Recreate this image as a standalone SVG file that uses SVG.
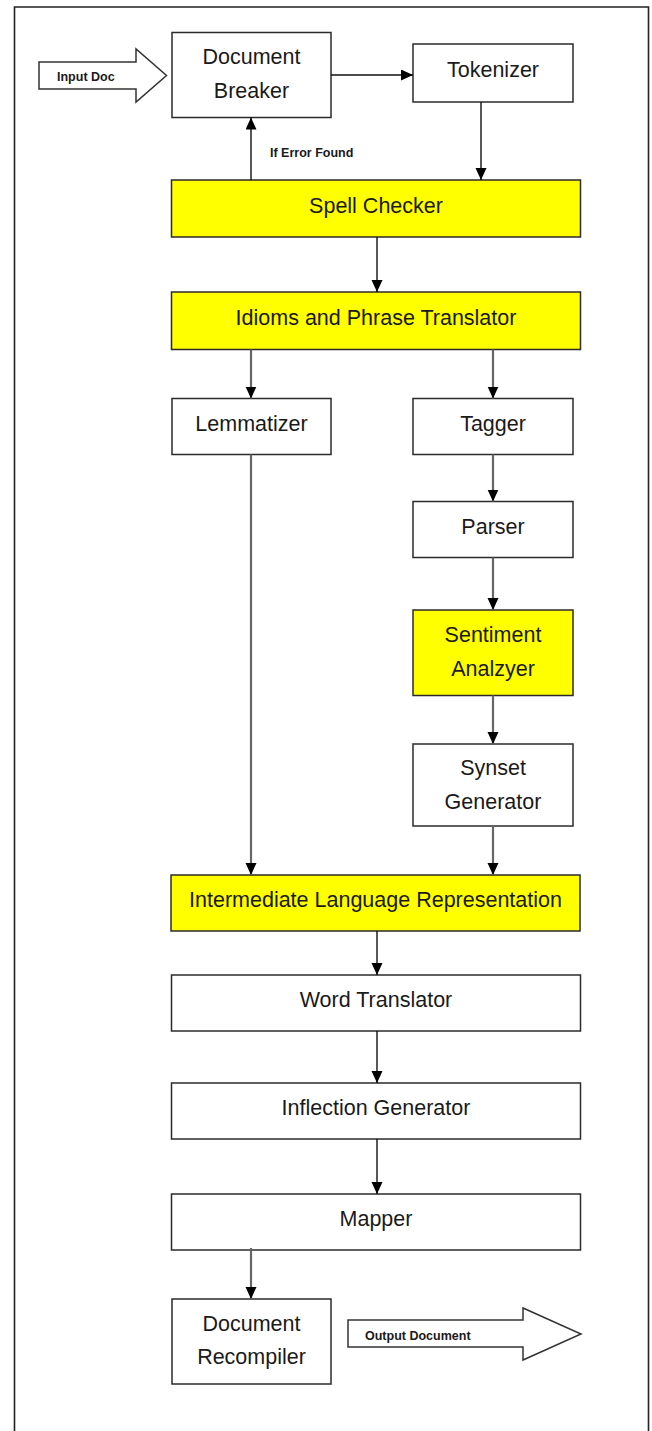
<svg xmlns="http://www.w3.org/2000/svg" width="652" height="1431" viewBox="0 0 652 1431">
<defs>
<style>
.box{fill:#fff;stroke:#2b2b2b;stroke-width:1.5}
.hl{fill:#ffff00;stroke:#2b2b2b;stroke-width:1.5}
.lbl{font-family:"Liberation Sans",Arial,sans-serif;font-size:21.5px;fill:#1a1a1a;text-anchor:middle}
.sm{font-family:"Liberation Sans",Arial,sans-serif;font-size:12.5px;font-weight:bold;fill:#1a1a1a}
.blk{fill:none;stroke:#111;stroke-width:1.4}
.gry{fill:none;stroke:#666;stroke-width:2.2}
.big{fill:#fff;stroke:#333;stroke-width:1.5;stroke-linejoin:miter}
</style>
<marker id="ah" markerUnits="userSpaceOnUse" markerWidth="13" markerHeight="12" refX="12" refY="5.5" orient="auto">
<path d="M0,0 L12,5.5 L0,11 Z" fill="#000"/>
</marker>
</defs>
<rect width="652" height="1431" fill="#fff"/>
<path d="M14.5,1432 V7 H648.5 V1432" fill="none" stroke="#222" stroke-width="1.6"/>

<g id="input-doc">
<polygon class="big" points="39,62 136,62 136,49 166.5,75.5 136,102 136,89 39,89"/>
<text class="sm" x="57" y="81">Input Doc</text>
</g>
<g id="document-breaker">
<rect class="box" x="172" y="32.5" width="159" height="85"/>
<text class="lbl" x="251.5" y="64">Document</text>
<text class="lbl" x="251.5" y="98">Breaker</text>
</g>
<g id="tokenizer">
<rect class="box" x="413" y="44" width="160" height="58"/>
<text class="lbl" x="493" y="77">Tokenizer</text>
</g>
<g id="spell-checker">
<rect class="hl" x="171.5" y="180" width="409" height="57"/>
<text class="lbl" x="376" y="212.5">Spell Checker</text>
</g>
<g id="idioms">
<rect class="hl" x="171.5" y="292" width="409" height="57.5"/>
<text class="lbl" x="376" y="324.5">Idioms and Phrase Translator</text>
</g>
<g id="lemmatizer">
<rect class="box" x="172" y="398.5" width="159" height="56"/>
<text class="lbl" x="251.5" y="430.5">Lemmatizer</text>
</g>
<g id="tagger">
<rect class="box" x="413" y="398.5" width="160" height="56"/>
<text class="lbl" x="493" y="430.5">Tagger</text>
</g>
<g id="parser">
<rect class="box" x="413" y="501.5" width="160" height="56"/>
<text class="lbl" x="493" y="533.5">Parser</text>
</g>
<g id="sentiment-analyzer">
<rect class="hl" x="413" y="610" width="160" height="85.5"/>
<text class="lbl" x="493" y="642">Sentiment</text>
<text class="lbl" x="493" y="676">Analzyer</text>
</g>
<g id="synset-generator">
<rect class="box" x="413" y="744" width="160" height="82"/>
<text class="lbl" x="493" y="774.5">Synset</text>
<text class="lbl" x="493" y="808.5">Generator</text>
</g>
<g id="intermediate-language">
<rect class="hl" x="171" y="875" width="409" height="56"/>
<text class="lbl" x="375.5" y="907">Intermediate Language Representation</text>
</g>
<g id="word-translator">
<rect class="box" x="171.5" y="975" width="409" height="56"/>
<text class="lbl" x="376" y="1007">Word Translator</text>
</g>
<g id="inflection-generator">
<rect class="box" x="171.5" y="1083" width="409" height="56"/>
<text class="lbl" x="376" y="1115">Inflection Generator</text>
</g>
<g id="mapper">
<rect class="box" x="171.5" y="1194" width="409" height="56"/>
<text class="lbl" x="376" y="1226">Mapper</text>
</g>
<g id="document-recompiler">
<rect class="box" x="172" y="1299" width="159" height="85"/>
<text class="lbl" x="251.5" y="1330.5">Document</text>
<text class="lbl" x="251.5" y="1364">Recompiler</text>
</g>
<g id="output-document">
<polygon class="big" points="348,1320 523,1320 523,1308 581,1334 523,1360 523,1347 348,1347"/>
<text class="sm" x="365" y="1339.5">Output Document</text>
</g>

<g id="connectors">
<line class="blk" x1="331" y1="75" x2="413" y2="75" marker-end="url(#ah)"/>
<line class="blk" x1="481" y1="102" x2="481" y2="180" marker-end="url(#ah)"/>
<line class="blk" x1="251" y1="180" x2="251" y2="117.5" marker-end="url(#ah)"/>
<text class="sm" x="270" y="157">If Error Found</text>
<line class="blk" x1="377" y1="237" x2="377" y2="292" marker-end="url(#ah)"/>
<line class="gry" x1="251" y1="349.5" x2="251" y2="398.5" marker-end="url(#ah)"/>
<line class="gry" x1="493" y1="349.5" x2="493" y2="398.5" marker-end="url(#ah)"/>
<line class="gry" x1="493" y1="454.5" x2="493" y2="501.5" marker-end="url(#ah)"/>
<line class="gry" x1="493" y1="557.5" x2="493" y2="610" marker-end="url(#ah)"/>
<line class="gry" x1="493" y1="695.5" x2="493" y2="744" marker-end="url(#ah)"/>
<line class="gry" x1="493" y1="826" x2="493" y2="875" marker-end="url(#ah)"/>
<line class="gry" x1="251" y1="454.5" x2="251" y2="875" marker-end="url(#ah)"/>
<line class="blk" x1="377" y1="931" x2="377" y2="975" marker-end="url(#ah)"/>
<line class="blk" x1="377" y1="1031" x2="377" y2="1083" marker-end="url(#ah)"/>
<line class="blk" x1="377" y1="1139" x2="377" y2="1194" marker-end="url(#ah)"/>
<line class="gry" x1="251" y1="1248" x2="251" y2="1299" marker-end="url(#ah)"/>
</g>
</svg>
